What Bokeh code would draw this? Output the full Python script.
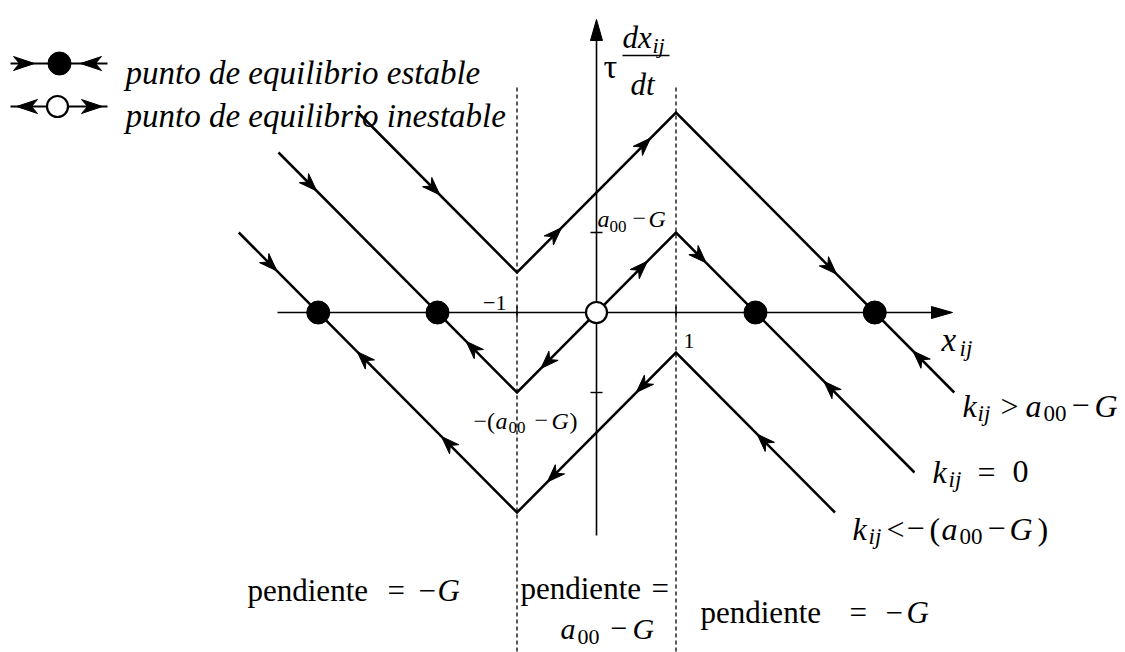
import numpy as np
from bokeh.plotting import figure
from bokeh.models import Range1d
from bokeh.core.properties import value
from bokeh.embed import file_html
from bokeh.resources import INLINE

# tau*dx/dt versus x for three bias values k_ij (vertices of each broken line)
top_x = [-3.0, -1.0, 1.0, 4.5]
top_y = [2.5, 0.5, 2.5, -1.0]
mid_x = [-4.0, -1.0, 1.0, 4.0]
mid_y = [2.0, -1.0, 1.0, -2.0]
bot_x = [-4.5, -1.0, 1.0, 3.0]
bot_y = [1.0, -2.5, -0.5, -2.5]

# equilibrium points on the x axis
stable_x = [-3.5, -2.0, 2.0, 3.5]
unstable_x = [0.0]

# positions of the flow arrows along each curve
top_arrows = [-2.05, -0.52, 0.6, 2.94, 4.06]
mid_arrows = [-3.6, -1.56, -0.62, 0.56, 1.3, 2.94]
bot_arrows = [-4.1, -2.93, -1.87, -0.54, 0.58, 2.1]

# saturation breakpoints and marked levels
breaks = [-1.0, 1.0]
levels = [-1.0, 1.0]

W, H = 1125, 652
OX, OY = 596.0, 312.0      # pixel position of the origin
SX, SY = 79.5, 80.0        # pixels per unit


def fx(px):
    return (px - OX) / SX


def fy(py):
    return (OY - py) / SY


p = figure(width=W, height=H, x_range=Range1d(fx(0), fx(W)), y_range=Range1d(fy(H), fy(0)),
           output_backend="svg", toolbar_location=None, min_border=0,
           x_axis_type=None, y_axis_type=None)
p.outline_line_color = None
p.background_fill_color = "white"
p.border_fill_color = "white"

FONT = value("Liberation Serif")


def txt(px, py, s, size, italic=False, align="left"):
    p.text(x=[fx(px)], y=[fy(py)], text=[s], text_font=FONT, text_font_size=f"{size}px",
           text_font_style="italic" if italic else "normal", text_align=align,
           text_baseline="alphabetic", text_color="black")


def head(tx, ty, ux, uy, length, half, notch):
    n = np.hypot(ux, uy)
    ux, uy = ux / n, uy / n
    nx, ny = -uy, ux
    bx, by = tx - length * ux, ty - length * uy
    pts = [(tx, ty), (bx + half * nx, by + half * ny),
           (tx - (length - notch) * ux, ty - (length - notch) * uy),
           (bx - half * nx, by - half * ny)]
    return [fx(a) for a, _ in pts], [fy(b) for _, b in pts]


heads_x, heads_y = [], []

# dashed saturation boundaries
p.segment(x0=breaks, y0=[fy(87)] * 2, x1=breaks, y1=[fy(H)] * 2,
          line_color="black", line_width=1.3, line_dash="4 3")

# axes
p.segment(x0=[fx(277)], y0=[0], x1=[fx(936)], y1=[0], line_color="black", line_width=1.6)
p.segment(x0=[0], y0=[fy(535)], x1=[0], y1=[fy(36)], line_color="black", line_width=1.6)
for hx, hy in [head(952, OY, 1, 0, 21, 6, 0), head(OX, 19, 0, -1, 21, 6, 0)]:
    heads_x.append(hx)
    heads_y.append(hy)

# small ticks at the breakpoints and at +/-(a00 - G)
p.segment(x0=breaks, y0=[fy(OY - 6)] * 2, x1=breaks, y1=[fy(OY + 6)] * 2,
          line_color="black", line_width=1.4)
p.segment(x0=[fx(OX - 6)] * 2, y0=levels, x1=[fx(OX + 6)] * 2, y1=levels,
          line_color="black", line_width=1.4)

# the three curves
for xs, ys in [(top_x, top_y), (mid_x, mid_y), (bot_x, bot_y)]:
    p.line(xs, ys, line_color="black", line_width=2.5, line_join="miter")

# flow arrows: rightward where tau*dx/dt > 0, leftward where < 0
for xs, ys, arr in [(top_x, top_y, top_arrows), (mid_x, mid_y, mid_arrows), (bot_x, bot_y, bot_arrows)]:
    xs_a, ys_a = np.array(xs), np.array(ys)
    for x0 in arr:
        y0 = float(np.interp(x0, xs_a, ys_a))
        i = int(np.clip(np.searchsorted(xs_a, x0) - 1, 0, len(xs_a) - 2))
        slope = (ys_a[i + 1] - ys_a[i]) / (xs_a[i + 1] - xs_a[i])
        d = 1.0 if y0 > 0 else -1.0
        ux, uy = d * SX, -d * slope * SY
        nrm = np.hypot(ux, uy)
        ux, uy = ux / nrm, uy / nrm
        ax, ay = OX + x0 * SX, OY - y0 * SY
        hx, hy = head(ax + 9 * ux, ay + 9 * uy, ux, uy, 18, 6.5, 5.5)
        heads_x.append(hx)
        heads_y.append(hy)

# equilibrium points
p.scatter(stable_x, [0.0] * len(stable_x), size=23, fill_color="black", line_color="black")
p.scatter(unstable_x, [0.0], size=21, fill_color="white", line_color="black", line_width=2.2)

# legend keys
R1, R2 = 63, 106
p.segment(x0=[fx(10)] * 2, y0=[fy(R1), fy(R2)], x1=[fx(107)] * 2, y1=[fy(R1), fy(R2)],
          line_color="black", line_width=2)
for hx, hy in [head(34, R1, 1, 0, 21, 7, 6), head(80, R1, -1, 0, 21, 7, 6),
               head(16, R2, -1, 0, 21, 7, 6), head(102, R2, 1, 0, 21, 7, 6)]:
    heads_x.append(hx)
    heads_y.append(hy)
p.scatter([fx(59)], [fy(R1)], size=23, fill_color="black", line_color="black")
p.scatter([fx(57)], [fy(R2)], size=21, fill_color="white", line_color="black", line_width=2.2)

p.patches(heads_x, heads_y, fill_color="black", line_color="black", line_width=1)

txt(125, 72, "punto de equilibrio estable", 33, italic=True)
txt(125, 115, "punto de equilibrio inestable", 33, italic=True)

# axis labels
txt(603, 66, "τ", 34)
txt(622, 37, "dx", 31, italic=True)
txt(652, 45, "ij", 22, italic=True)
p.segment(x0=[fx(622)], y0=[fy(55)], x1=[fx(669)], y1=[fy(55)], line_color="black", line_width=1.5)
txt(630, 84, "dt", 31, italic=True)

txt(941, 339, "x", 33, italic=True)
txt(959, 348, "ij", 23, italic=True)

txt(506, 302, "−1", 22, align="right")
txt(683, 340, "1", 22)

# level labels
txt(597, 218, "a", 24, italic=True)
txt(609, 226, "00", 17)
txt(632, 218, "−", 24)
txt(648, 218, "G", 24, italic=True)

txt(473, 420, "−(", 24)
txt(495, 420, "a", 24, italic=True)
txt(508, 427, "00", 17)
txt(534, 420, "−", 24)
txt(551, 420, "G", 24, italic=True)
txt(569, 420, ")", 24)

# curve labels
txt(962, 405, "k", 32, italic=True)
txt(977, 413, "ij", 23, italic=True)
txt(1000, 405, ">", 32)
txt(1025, 405, "a", 32, italic=True)
txt(1043, 413, "00", 23)
txt(1071, 405, "−", 32)
txt(1094, 405, "G", 32, italic=True)

txt(932, 471, "k", 32, italic=True)
txt(948, 479, "ij", 23, italic=True)
txt(977, 471, "=", 32)
txt(1012, 471, "0", 32)

txt(852, 528, "k", 32, italic=True)
txt(868, 536, "ij", 23, italic=True)
txt(886, 528, "<", 32)
txt(906, 528, "−", 32)
txt(929, 528, "(", 32)
txt(941, 528, "a", 32, italic=True)
txt(959, 536, "00", 23)
txt(987, 528, "−", 32)
txt(1009, 528, "G", 32, italic=True)
txt(1037, 528, ")", 32)

# slope annotations per region
txt(247, 590, "pendiente", 31)
txt(387, 590, "=", 31)
txt(418, 590, "−", 31)
txt(437, 590, "G", 31, italic=True)

txt(520, 588, "pendiente", 31)
txt(651, 588, "=", 31)
txt(560, 628, "a", 30, italic=True)
txt(577, 636, "00", 22)
txt(610, 628, "−", 30)
txt(632, 628, "G", 30, italic=True)

txt(700, 612, "pendiente", 31)
txt(849, 612, "=", 31)
txt(885, 612, "−", 31)
txt(906, 612, "G", 31, italic=True)

open("out.html", "w").write(file_html(p, INLINE))
